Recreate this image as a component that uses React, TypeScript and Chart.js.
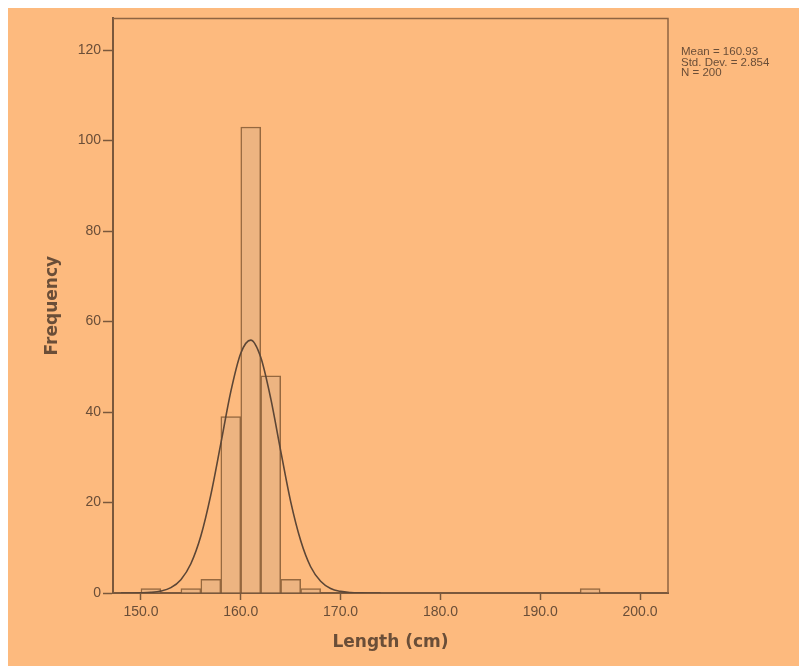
import { useEffect, useRef } from "react";
import { Chart, registerables } from "chart.js";

Chart.register(...registerables);

// Histogram bins (bin width 2 cm), centres and counts
const binCenters = [151, 155, 157, 159, 161, 163, 165, 167, 195];
const binCounts = [1, 1, 3, 39, 103, 48, 3, 1, 1];

// Fitted normal curve
const curveX = [148, 149, 150, 151, 152, 153, 154, 155, 156, 157, 158, 159, 160, 161, 162, 163, 164, 165, 166, 167, 168, 169, 170, 171, 172, 173, 174];
const curveY = [0.002, 0.01, 0.04, 0.13, 0.42, 1.18, 2.94, 6.46, 12.58, 21.68, 33.0, 44.5, 53.0, 55.9, 52.1, 43.0, 31.4, 20.2, 11.6, 5.8, 2.6, 1.0, 0.36, 0.11, 0.03, 0.01, 0.002];

const xTicks = [150, 160, 170, 180, 190, 200];
const yTicks = [0, 20, 40, 60, 80, 100, 120];
const statsLines = ["Mean = 160.93", "Std. Dev. = 2.854", "N = 200"];

const BG = "#FDBA7E";
const BAR_FILL = "#EDB481";
const BAR_BORDER = "#95683F";
const AXIS = "#7A583C";
const TEXT = "#6A4E38";
const CURVE = "#5C4636";

export default function App() {
  const ref = useRef<HTMLCanvasElement | null>(null);

  useEffect(() => {
    document.documentElement.style.overflow = "hidden";
    const canvas = ref.current;
    if (!canvas) return;

    const framePlugin = {
      id: "frameAndStats",
      afterDraw(chart: any) {
        const { ctx, chartArea } = chart;
        ctx.save();
        ctx.strokeStyle = "#8E6442";
        ctx.lineWidth = 1.5;
        ctx.beginPath();
        ctx.moveTo(chartArea.left, chartArea.top);
        ctx.lineTo(chartArea.right, chartArea.top);
        ctx.lineTo(chartArea.right, chartArea.bottom);
        ctx.stroke();

        ctx.fillStyle = TEXT;
        ctx.font = "11.5px 'Liberation Sans', Arial, sans-serif";
        ctx.textBaseline = "middle";
        ctx.textAlign = "left";
        statsLines.forEach((t, i) => {
          ctx.fillText(t, chartArea.right + 13, 44 + i * 10.5);
        });
        ctx.restore();
      },
    };

    const chart = new Chart(canvas, {
      type: "bar",
      data: {
        datasets: [
          {
            type: "line",
            data: curveX.map((x, i) => ({ x, y: curveY[i] })),
            borderColor: CURVE,
            borderWidth: 1.6,
            pointRadius: 0,
            fill: false,
            cubicInterpolationMode: "monotone",
            order: 0,
          } as any,
          {
            type: "bar",
            data: binCenters.map((x, i) => ({ x, y: binCounts[i] })),
            backgroundColor: BAR_FILL,
            borderColor: BAR_BORDER,
            borderWidth: 1.5,
            barPercentage: 1,
            categoryPercentage: 1,
            order: 1,
          } as any,
        ],
      },
      options: {
        animation: false,
        responsive: false,
        devicePixelRatio: 1,
        layout: { padding: { left: 0, top: 7, right: 131, bottom: 0 } },
        plugins: {
          legend: { display: false },
          tooltip: { enabled: false },
        },
        scales: {
          x: {
            type: "linear",
            offset: false,
            min: 147.2,
            max: 202.8,
            afterBuildTicks: (scale: any) => {
              scale.ticks = xTicks.map((v) => ({ value: v }));
            },
            afterFit: (scale: any) => {
              scale.height = 73;
            },
            border: { display: true, color: AXIS, width: 2 },
            grid: {
              offset: false,
              drawOnChartArea: false,
              drawTicks: true,
              tickLength: 7,
              tickColor: AXIS,
              tickWidth: 1.5,
            },
            ticks: {
              padding: 4,
              color: TEXT,
              font: { family: "'Liberation Sans', Arial, sans-serif", size: 14 },
              callback: (v: any) => Number(v).toFixed(1),
              maxRotation: 0,
            },
            title: {
              display: true,
              text: "Length (cm)",
              color: TEXT,
              font: { family: "'DejaVu Sans', sans-serif", size: 17, weight: "bold" },
              padding: { top: 0, bottom: 13 },
            },
          },
          y: {
            type: "linear",
            min: 0,
            max: 127,
            afterBuildTicks: (scale: any) => {
              scale.ticks = yTicks.map((v) => ({ value: v }));
            },
            afterFit: (scale: any) => {
              scale.width = 105;
            },
            border: { display: true, color: AXIS, width: 2 },
            grid: {
              drawOnChartArea: false,
              drawTicks: true,
              tickLength: 10,
              tickColor: AXIS,
              tickWidth: 1.5,
            },
            ticks: {
              padding: 2,
              color: TEXT,
              font: { family: "'Liberation Sans', Arial, sans-serif", size: 14 },
            },
            title: {
              display: true,
              text: "Frequency",
              color: TEXT,
              font: { family: "'DejaVu Sans', sans-serif", size: 17, weight: "bold" },
              padding: { top: 34, bottom: 0 },
            },
          },
        },
      },
      plugins: [framePlugin],
    });

    return () => {
      chart.destroy();
    };
  }, []);

  return (
    <div style={{ position: "fixed", left: 8, top: 8, right: 0, bottom: 0, background: BG }}>
      <canvas ref={ref} width={791} height={658} style={{ display: "block", width: 791, height: 658 }} />
    </div>
  );
}
